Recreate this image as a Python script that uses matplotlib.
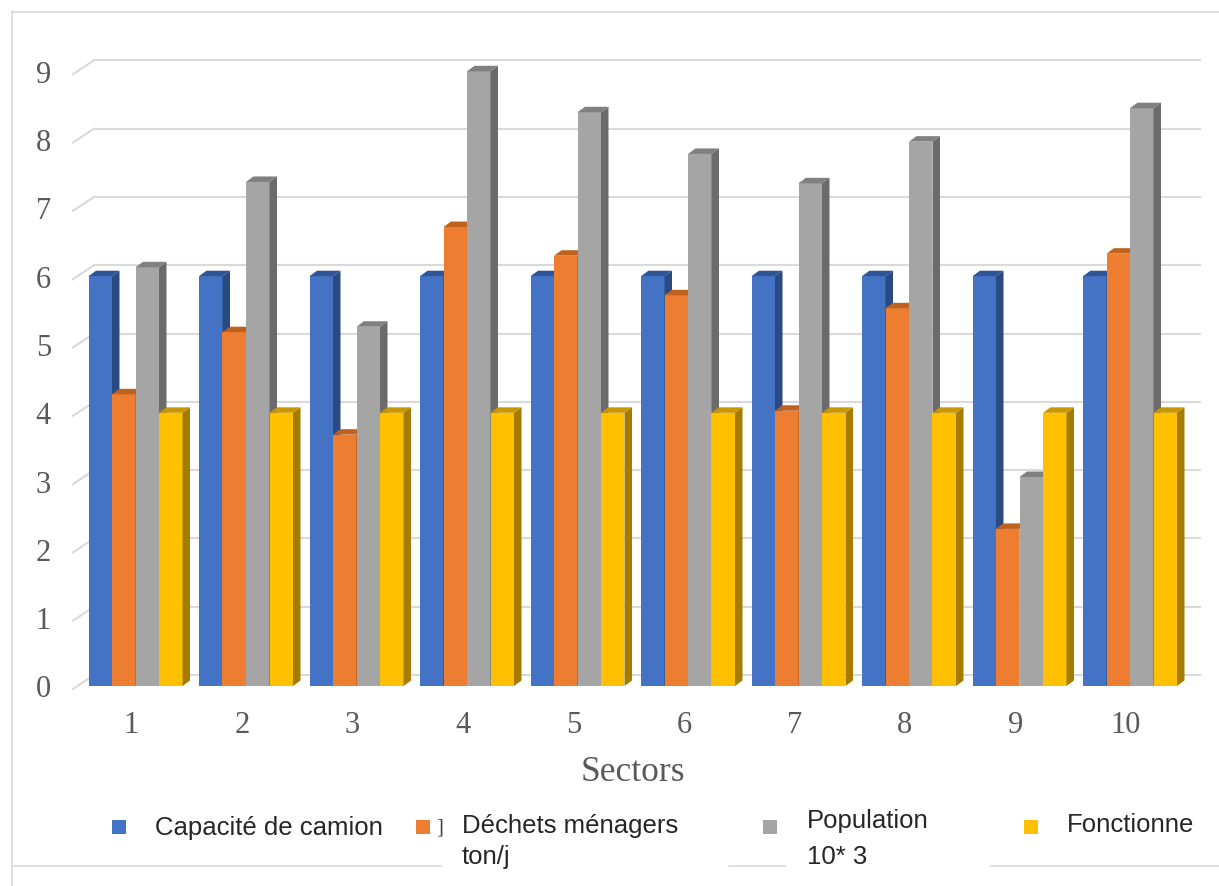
import matplotlib
matplotlib.use("Agg")
import matplotlib.pyplot as plt
from matplotlib.patches import Polygon, Rectangle
from matplotlib.lines import Line2D

# ---------------- data ----------------
sectors = [1, 2, 3, 4, 5, 6, 7, 8, 9, 10]
capacite = [6, 6, 6, 6, 6, 6, 6, 6, 6, 6]
dechets = [4.27, 5.18, 3.68, 6.72, 6.30, 5.72, 4.03, 5.53, 2.30, 6.33]
population = [6.13, 7.38, 5.26, 9.00, 8.40, 7.79, 7.36, 7.97, 3.06, 8.46]
fonctionne = [4, 4, 4, 4, 4, 4, 4, 4, 4, 4]
series_names = ["Capacité de camion", "Déchets ménagers\nton/j", "Population\n10* 3", "Fonctionne"]
yticks = [0, 1, 2, 3, 4, 5, 6, 7, 8, 9]
xlabel = "Sectors"

front_cols = ["#4472C4", "#ED7D31", "#A5A5A5", "#FFC000"]
top_cols = ["#2F5597", "#C0621F", "#808080", "#C99700"]
side_cols = ["#2A4A82", "#A8561C", "#6B6B6B", "#A67C00"]

# ---------------- layout ----------------
W, H = 1219, 887
fig = plt.figure(figsize=(W / 100, H / 100), dpi=100)
ax = fig.add_axes([0, 0, 1, 1])
ax.set_axis_off()

X0, XS = 135.5, 110.5   # pixel of sector 1 centre, pixels per sector
Y0, YS = 687.0, 68.3    # pixel (from top) of value 0, pixels per unit
ax.set_xlim(1 - X0 / XS, 1 + (W - X0) / XS)
ax.set_ylim(-(H - Y0) / YS, Y0 / YS)


def px(xp):
    return 1 + (xp - X0) / XS


def py(yp):
    return (Y0 - yp) / YS


bw = 23.5 / XS
ddx = 7.5 / XS
ddy = 5.5 / YS

# gridlines (back wall + slanted connectors)
gcol = "#D9D9D9"
for k in yticks:
    yb = k + (Y0 - 676) / YS
    yf = k - (690 - Y0) / YS
    ax.add_line(Line2D([px(94), px(1200)], [yb, yb], color=gcol, lw=1.5, zorder=1))
    ax.add_line(Line2D([px(73), px(94)], [yf, yb], color=gcol, lw=1.5, zorder=1))
    ax.text(px(51), yf, str(k), ha="right", va="center", fontsize=22,
            family="Liberation Serif", color="#595959")

# bars
all_series = [capacite, dechets, population, fonctionne]
for s, vals in enumerate(all_series):
    xl = [c - 2 * bw + s * bw for c in sectors]
    ax.bar(xl, vals, width=bw, align="edge", color=front_cols[s], zorder=3 + s, linewidth=0)
    for x0, h in zip(xl, vals):
        x1 = x0 + bw
        side = Polygon([(x1, 0), (x1 + ddx, ddy), (x1 + ddx, h + ddy), (x1, h)],
                       closed=True, facecolor=side_cols[s], edgecolor="none", zorder=3.5 + s)
        top = Polygon([(x0, h), (x0 + ddx, h + ddy), (x1 + ddx, h + ddy), (x1, h)],
                      closed=True, facecolor=top_cols[s], edgecolor="none", zorder=3.5 + s)
        ax.add_patch(side)
        ax.add_patch(top)

# x tick labels
for c in sectors:
    ax.text(c - 4 / XS, py(726), str(c), ha="center", va="center", fontsize=22,
            family="Liberation Serif", color="#595959")

ax.text(px(632.5), py(773), xlabel, ha="center", va="center", fontsize=25.5,
        family="Liberation Serif", color="#595959")

# frame lines
fcol = "#D9D9D9"
ax.add_line(Line2D([px(12), px(12)], [py(12), py(887)], color=fcol, lw=1.2, zorder=0))
ax.add_line(Line2D([px(12), px(1219)], [py(13), py(13)], color=fcol, lw=1.2, zorder=0))
for a, b in [(12, 442), (729, 785), (990, 1219)]:
    ax.add_line(Line2D([px(a), px(b)], [py(867), py(867)], color=fcol, lw=1.2, zorder=0))

# legend
sq = 14
leg = [
    (112, 828, 155, [(series_names[0], 828)]),
    (416, 828, 462, [(series_names[1].split("\n")[0], 826), (series_names[1].split("\n")[1], 857)]),
    (763, 828, 807, [(series_names[2].split("\n")[0], 821), (series_names[2].split("\n")[1], 857)]),
    (1024, 828, 1067, [(series_names[3], 825)]),
]
for s, (sx, sy, tx, lines) in enumerate(leg):
    ax.add_patch(Rectangle((px(sx), py(sy + sq / 2)), sq / XS, sq / YS,
                           facecolor=front_cols[s], edgecolor="none", zorder=5))
    for txt, ty in lines:
        ax.text(px(tx), py(ty), txt, ha="left", va="center", fontsize=18.5,
                family="Liberation Sans", color="#262626")
ax.text(px(436), py(828), "]", ha="left", va="center", fontsize=15,
        family="Liberation Serif", color="#404040")

fig.savefig("out.png", dpi=100)
